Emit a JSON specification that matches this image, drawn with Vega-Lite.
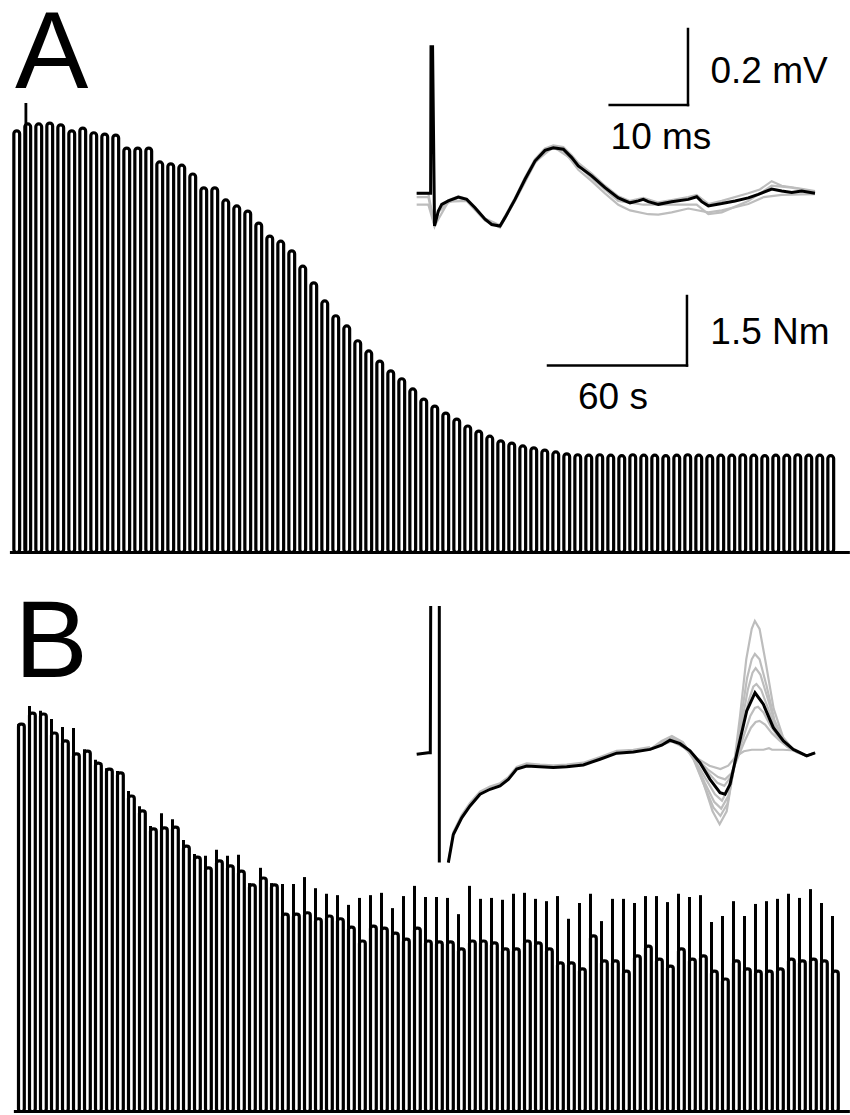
{
"$schema": "https://vega.github.io/schema/vega-lite/v6.json",
"background": "white",
"padding": 0,
"spacing": 0,
"bounds": "flush",
"config": {"view": {"stroke": null}},
"datasets": {
"pulsesA": [
{"t0":0,"t1":2.5,"top":9.10},{"t0":4.75,"t1":7.25,"top":9.25},{"t0":9.5,"t1":12,"top":9.25},{"t0":14.25,"t1":16.75,"top":9.27},{"t0":19,"t1":21.5,"top":9.23},
{"t0":23.75,"t1":26.25,"top":9.10},{"t0":28.5,"t1":31,"top":9.16},{"t0":33.25,"t1":35.75,"top":9.06},{"t0":38,"t1":40.5,"top":9.03},{"t0":42.75,"t1":45.25,"top":9.01},
{"t0":47.5,"t1":50,"top":8.73},{"t0":52.25,"t1":54.75,"top":8.73},{"t0":57,"t1":59.5,"top":8.73},{"t0":61.75,"t1":64.25,"top":8.43},{"t0":66.5,"t1":69,"top":8.39},
{"t0":71.25,"t1":73.75,"top":8.36},{"t0":76,"t1":78.5,"top":8.17},{"t0":80.75,"t1":83.25,"top":7.87},{"t0":85.5,"t1":88,"top":7.87},{"t0":90.25,"t1":92.75,"top":7.61},
{"t0":95,"t1":97.5,"top":7.48},{"t0":99.75,"t1":102.25,"top":7.37},{"t0":104.5,"t1":107,"top":7.11},{"t0":109.25,"t1":111.75,"top":6.83},{"t0":114,"t1":116.5,"top":6.72},
{"t0":118.75,"t1":121.25,"top":6.51},{"t0":123.5,"t1":126,"top":6.18},{"t0":128.25,"t1":130.75,"top":5.82},{"t0":133,"t1":135.5,"top":5.43},{"t0":137.75,"t1":140.25,"top":5.11},
{"t0":142.5,"t1":145,"top":4.89},{"t0":147.25,"t1":149.75,"top":4.57},{"t0":152,"t1":154.5,"top":4.35},{"t0":156.75,"t1":159.25,"top":4.13},{"t0":161.5,"t1":164,"top":3.92},
{"t0":166.25,"t1":168.75,"top":3.75},{"t0":171,"t1":173.5,"top":3.53},{"t0":175.75,"t1":178.25,"top":3.31},{"t0":180.5,"t1":183,"top":3.16},{"t0":185.25,"t1":187.75,"top":3.01},
{"t0":190,"t1":192.5,"top":2.88},{"t0":194.75,"t1":197.25,"top":2.73},{"t0":199.5,"t1":202,"top":2.62},{"t0":204.25,"t1":206.75,"top":2.51},{"t0":209,"t1":211.5,"top":2.41},
{"t0":213.75,"t1":216.25,"top":2.36},{"t0":218.5,"t1":221,"top":2.30},{"t0":223.25,"t1":225.75,"top":2.26},{"t0":228,"t1":230.5,"top":2.21},{"t0":232.75,"t1":235.25,"top":2.17},
{"t0":237.5,"t1":240,"top":2.13},{"t0":242.25,"t1":244.75,"top":2.11},{"t0":247,"t1":249.5,"top":2.10},{"t0":251.75,"t1":254.25,"top":2.11},{"t0":256.5,"t1":259,"top":2.10},
{"t0":261.25,"t1":263.75,"top":2.09},{"t0":266,"t1":268.5,"top":2.11},{"t0":270.75,"t1":273.25,"top":2.10},{"t0":275.5,"t1":278,"top":2.10},{"t0":280.25,"t1":282.75,"top":2.09},
{"t0":285,"t1":287.5,"top":2.10},{"t0":289.75,"t1":292.25,"top":2.11},{"t0":294.5,"t1":297,"top":2.10},{"t0":299.25,"t1":301.75,"top":2.09},{"t0":304,"t1":306.5,"top":2.10},
{"t0":308.75,"t1":311.25,"top":2.10},{"t0":313.5,"t1":316,"top":2.11},{"t0":318.25,"t1":320.75,"top":2.10},{"t0":323,"t1":325.5,"top":2.09},{"t0":327.75,"t1":330.25,"top":2.10},
{"t0":332.5,"t1":335,"top":2.10},{"t0":337.25,"t1":339.75,"top":2.11},{"t0":342,"t1":344.5,"top":2.10},{"t0":346.75,"t1":349.25,"top":2.10},{"t0":351.5,"t1":354,"top":2.09}
],
"spikesA": [{"t0":5.2,"spike":9.70}],
"pulsesB": [
{"t0":0,"t1":2.5,"top":8.36,"spike":8.36},{"t0":4.75,"t1":7.25,"top":8.60,"spike":8.75},{"t0":9.5,"t1":12,"top":8.58,"spike":8.65},{"t0":14.25,"t1":16.75,"top":8.17,"spike":8.47},{"t0":19,"t1":21.5,"top":8.00,"spike":8.30},
{"t0":23.75,"t1":26.25,"top":7.72,"spike":8.28},{"t0":28.5,"t1":31,"top":7.78,"spike":7.82},{"t0":33.25,"t1":35.75,"top":7.52,"spike":7.59},{"t0":38,"t1":40.5,"top":7.39,"spike":7.41},{"t0":42.75,"t1":45.25,"top":7.31,"spike":7.35},
{"t0":47.5,"t1":50,"top":6.81,"spike":6.92},{"t0":52.25,"t1":54.75,"top":6.49,"spike":6.59},{"t0":57,"t1":59.5,"top":6.10,"spike":6.16},{"t0":61.75,"t1":64.25,"top":6.12,"spike":6.44},{"t0":66.5,"t1":69,"top":6.14,"spike":6.31},
{"t0":71.25,"t1":73.75,"top":5.73,"spike":5.86},{"t0":76,"t1":78.5,"top":5.49,"spike":5.56},{"t0":80.75,"t1":83.25,"top":5.26,"spike":5.52},{"t0":85.5,"t1":88,"top":5.41,"spike":5.65},{"t0":90.25,"t1":92.75,"top":5.30,"spike":5.52},
{"t0":95,"t1":97.5,"top":5.19,"spike":5.54},{"t0":99.75,"t1":102.25,"top":4.89,"spike":4.93},{"t0":104.5,"t1":107,"top":5.04,"spike":5.26},{"t0":109.25,"t1":111.75,"top":4.89,"spike":4.93},{"t0":114,"t1":116.5,"top":4.26,"spike":4.91},
{"t0":118.75,"t1":121.25,"top":4.26,"spike":4.91},{"t0":123.5,"t1":126,"top":4.29,"spike":5.06},{"t0":128.25,"t1":130.75,"top":4.16,"spike":4.82},{"t0":133,"t1":135.5,"top":4.22,"spike":4.70},{"t0":137.75,"t1":140.25,"top":4.16,"spike":4.67},
{"t0":142.5,"t1":145,"top":3.98,"spike":4.46},{"t0":147.25,"t1":149.75,"top":3.68,"spike":4.61},{"t0":152,"t1":154.5,"top":4.00,"spike":4.67},{"t0":156.75,"t1":159.25,"top":3.96,"spike":4.72},{"t0":161.5,"t1":164,"top":3.85,"spike":4.39},
{"t0":166.25,"t1":168.75,"top":3.72,"spike":4.65},{"t0":171,"t1":173.5,"top":3.96,"spike":4.87},{"t0":175.75,"t1":178.25,"top":3.68,"spike":4.63},{"t0":180.5,"t1":183,"top":3.66,"spike":4.63},{"t0":185.25,"t1":187.75,"top":3.66,"spike":4.61},
{"t0":190,"t1":192.5,"top":3.51,"spike":4.26},{"t0":194.75,"t1":197.25,"top":3.68,"spike":4.87},{"t0":199.5,"t1":202,"top":3.68,"spike":4.59},{"t0":204.25,"t1":206.75,"top":3.64,"spike":4.61},{"t0":209,"t1":211.5,"top":3.51,"spike":4.57},
{"t0":213.75,"t1":216.25,"top":3.51,"spike":4.70},{"t0":218.5,"t1":221,"top":3.68,"spike":4.72},{"t0":223.25,"t1":225.75,"top":3.64,"spike":4.59},{"t0":228,"t1":230.5,"top":3.51,"spike":4.54},{"t0":232.75,"t1":235.25,"top":3.21,"spike":4.65},
{"t0":237.5,"t1":240,"top":3.21,"spike":4.16},{"t0":242.25,"t1":244.75,"top":3.08,"spike":4.50},{"t0":247,"t1":249.5,"top":3.79,"spike":4.70},{"t0":251.75,"t1":254.25,"top":3.25,"spike":4.11},{"t0":256.5,"t1":259,"top":3.25,"spike":4.59},
{"t0":261.25,"t1":263.75,"top":3.03,"spike":4.59},{"t0":266,"t1":268.5,"top":3.36,"spike":4.50},{"t0":270.75,"t1":273.25,"top":3.57,"spike":4.65},{"t0":275.5,"t1":278,"top":3.29,"spike":4.65},{"t0":280.25,"t1":282.75,"top":3.14,"spike":4.52},
{"t0":285,"t1":287.5,"top":3.51,"spike":4.70},{"t0":289.75,"t1":292.25,"top":3.29,"spike":4.63},{"t0":294.5,"t1":297,"top":3.36,"spike":4.67},{"t0":299.25,"t1":301.75,"top":3.03,"spike":4.09},{"t0":304,"t1":306.5,"top":2.86,"spike":4.22},
{"t0":308.75,"t1":311.25,"top":3.25,"spike":4.54},{"t0":313.5,"t1":316,"top":3.08,"spike":4.22},{"t0":318.25,"t1":320.75,"top":3.03,"spike":4.48},{"t0":323,"t1":325.5,"top":3.03,"spike":4.54},{"t0":327.75,"t1":330.25,"top":3.08,"spike":4.59},
{"t0":332.5,"t1":335,"top":3.29,"spike":4.70},{"t0":337.25,"t1":339.75,"top":3.25,"spike":4.61},{"t0":342,"t1":344.5,"top":3.29,"spike":4.80},{"t0":346.75,"t1":349.25,"top":3.25,"spike":4.50},{"t0":351.5,"t1":354,"top":3.03,"spike":4.22}
],
"emgA": [
{"g":"a1","ms":-1.83,"mV":-0.03},{"g":"a1","ms":-0.34,"mV":-0.03},{"g":"a1","ms":0.45,"mV":-0.086},{"g":"a1","ms":0.93,"mV":-0.05},{"g":"a1","ms":2.21,"mV":-0.025},{"g":"a1","ms":3.49,"mV":-0.012},{"g":"a1","ms":4.56,"mV":-0.018},{"g":"a1","ms":5.62,"mV":-0.04},{"g":"a1","ms":6.9,"mV":-0.07},{"g":"a1","ms":8.81,"mV":-0.088},{"g":"a1","ms":10.73,"mV":-0.02},{"g":"a1","ms":12.01,"mV":0.03},{"g":"a1","ms":13.28,"mV":0.08},{"g":"a1","ms":14.56,"mV":0.11},{"g":"a1","ms":15.62,"mV":0.118},{"g":"a1","ms":16.9,"mV":0.112},{"g":"a1","ms":17.97,"mV":0.085},{"g":"a1","ms":18.81,"mV":0.062},{"g":"a1","ms":20.52,"mV":0.032},{"g":"a1","ms":22.22,"mV":0.0},{"g":"a1","ms":23.92,"mV":-0.03},{"g":"a1","ms":25.42,"mV":-0.045},{"g":"a1","ms":27.75,"mV":-0.055},{"g":"a1","ms":29.03,"mV":-0.056},{"g":"a1","ms":30.74,"mV":-0.05},{"g":"a1","ms":32.86,"mV":-0.04},{"g":"a1","ms":35.42,"mV":-0.05},{"g":"a1","ms":37.13,"mV":-0.045},{"g":"a1","ms":40.52,"mV":-0.028},{"g":"a1","ms":42.5,"mV":-0.01},{"g":"a1","ms":44.79,"mV":-0.004},{"g":"a1","ms":47.34,"mV":-0.003},{"g":"a1","ms":49.04,"mV":-0.002},
{"g":"a2","ms":-1.83,"mV":0.0},{"g":"a2","ms":-0.34,"mV":0.0},{"g":"a2","ms":0.45,"mV":-0.086},{"g":"a2","ms":0.93,"mV":-0.045},{"g":"a2","ms":2.21,"mV":-0.018},{"g":"a2","ms":3.49,"mV":-0.008},{"g":"a2","ms":4.56,"mV":-0.014},{"g":"a2","ms":5.62,"mV":-0.036},{"g":"a2","ms":6.9,"mV":-0.066},{"g":"a2","ms":8.81,"mV":-0.084},{"g":"a2","ms":10.73,"mV":-0.012},{"g":"a2","ms":12.01,"mV":0.042},{"g":"a2","ms":13.28,"mV":0.09},{"g":"a2","ms":14.56,"mV":0.118},{"g":"a2","ms":15.62,"mV":0.126},{"g":"a2","ms":16.9,"mV":0.122},{"g":"a2","ms":17.97,"mV":0.1},{"g":"a2","ms":18.81,"mV":0.08},{"g":"a2","ms":20.52,"mV":0.052},{"g":"a2","ms":22.22,"mV":0.02},{"g":"a2","ms":23.92,"mV":-0.008},{"g":"a2","ms":25.42,"mV":-0.02},{"g":"a2","ms":27.11,"mV":-0.012},{"g":"a2","ms":29.03,"mV":-0.024},{"g":"a2","ms":30.74,"mV":-0.018},{"g":"a2","ms":32.86,"mV":-0.01},{"g":"a2","ms":33.93,"mV":-0.004},{"g":"a2","ms":35.42,"mV":-0.028},{"g":"a2","ms":37.13,"mV":-0.02},{"g":"a2","ms":40.52,"mV":0.0},{"g":"a2","ms":42.0,"mV":0.01},{"g":"a2","ms":43.51,"mV":0.032},{"g":"a2","ms":44.79,"mV":0.02},{"g":"a2","ms":47.34,"mV":0.012},{"g":"a2","ms":49.04,"mV":0.006},
{"g":"a3","ms":-1.83,"mV":-0.01},{"g":"a3","ms":-0.34,"mV":-0.01},{"g":"a3","ms":0.45,"mV":-0.086},{"g":"a3","ms":2.21,"mV":-0.022},{"g":"a3","ms":4.56,"mV":-0.02},{"g":"a3","ms":6.9,"mV":-0.072},{"g":"a3","ms":8.81,"mV":-0.09},{"g":"a3","ms":10.73,"mV":-0.018},{"g":"a3","ms":13.28,"mV":0.082},{"g":"a3","ms":15.62,"mV":0.122},{"g":"a3","ms":17.97,"mV":0.09},{"g":"a3","ms":20.52,"mV":0.04},{"g":"a3","ms":23.92,"mV":-0.02},{"g":"a3","ms":27.11,"mV":-0.03},{"g":"a3","ms":30.74,"mV":-0.03},{"g":"a3","ms":33.93,"mV":-0.03},{"g":"a3","ms":35.42,"mV":-0.055},{"g":"a3","ms":37.13,"mV":-0.05},{"g":"a3","ms":40.52,"mV":-0.02},{"g":"a3","ms":43.51,"mV":0.02},{"g":"a3","ms":46.07,"mV":0.015},{"g":"a3","ms":49.04,"mV":0.004}
],
"meanA": [
{"ms":-1.83,"mV":0},{"ms":-0.34,"mV":0},{"ms":-0.05,"mV":0},{"ms":0.0,"mV":0.386},{"ms":0.2,"mV":0.386},{"ms":0.45,"mV":-0.086},{"ms":0.93,"mV":-0.047},{"ms":1.37,"mV":-0.029},{"ms":2.21,"mV":-0.02},{"ms":3.49,"mV":-0.01},{"ms":4.56,"mV":-0.016},{"ms":5.62,"mV":-0.038},{"ms":6.9,"mV":-0.068},{"ms":7.75,"mV":-0.082},{"ms":8.81,"mV":-0.086},{"ms":9.45,"mV":-0.064},{"ms":10.73,"mV":-0.016},{"ms":12.01,"mV":0.037},{"ms":13.28,"mV":0.085},{"ms":14.56,"mV":0.113},{"ms":15.62,"mV":0.12},{"ms":16.9,"mV":0.116},{"ms":17.97,"mV":0.094},{"ms":18.81,"mV":0.072},{"ms":20.52,"mV":0.046},{"ms":22.22,"mV":0.015},{"ms":23.92,"mV":-0.012},{"ms":25.42,"mV":-0.025},{"ms":26.48,"mV":-0.02},{"ms":27.11,"mV":-0.016},{"ms":27.75,"mV":-0.022},{"ms":29.03,"mV":-0.029},{"ms":30.74,"mV":-0.022},{"ms":32.86,"mV":-0.016},{"ms":33.93,"mV":-0.009},{"ms":34.57,"mV":-0.022},{"ms":35.42,"mV":-0.033},{"ms":37.13,"mV":-0.027},{"ms":38.83,"mV":-0.02},{"ms":40.52,"mV":-0.012},{"ms":41.8,"mV":-0.003},{"ms":43.51,"mV":0.011},{"ms":44.79,"mV":0.006},{"ms":46.07,"mV":0.002},{"ms":47.34,"mV":0.006},{"ms":49.04,"mV":0.0}
],
"emgB": [
{"g":"b0","ms":2.25,"mV":-0.285},{"g":"b0","ms":2.89,"mV":-0.205},{"g":"b0","ms":3.96,"mV":-0.16},{"g":"b0","ms":5.02,"mV":-0.128},{"g":"b0","ms":6.3,"mV":-0.098},{"g":"b0","ms":7.57,"mV":-0.085},{"g":"b0","ms":8.85,"mV":-0.076},{"g":"b0","ms":9.91,"mV":-0.06},{"g":"b0","ms":10.98,"mV":-0.033},{"g":"b0","ms":12.26,"mV":-0.024},{"g":"b0","ms":13.96,"mV":-0.027},{"g":"b0","ms":15.66,"mV":-0.029},{"g":"b0","ms":17.37,"mV":-0.027},{"g":"b0","ms":19.49,"mV":-0.022},{"g":"b0","ms":21.62,"mV":-0.007},{"g":"b0","ms":23.75,"mV":0.009},{"g":"b0","ms":25.88,"mV":0.012},{"g":"b0","ms":28.01,"mV":0.019},
{"g":"b1","ms":28.0,"mV":0.013},{"g":"b1","ms":29.5,"mV":0.035},{"g":"b1","ms":30.8,"mV":0.048},{"g":"b1","ms":32.2,"mV":0.032},{"g":"b1","ms":33.6,"mV":-0.01},{"g":"b1","ms":34.9,"mV":-0.08},{"g":"b1","ms":36.0,"mV":-0.15},{"g":"b1","ms":36.9,"mV":-0.184},{"g":"b1","ms":37.8,"mV":-0.15},{"g":"b1","ms":38.6,"mV":-0.05},{"g":"b1","ms":39.5,"mV":0.1},{"g":"b1","ms":40.3,"mV":0.25},{"g":"b1","ms":41.0,"mV":0.33},{"g":"b1","ms":41.4,"mV":0.351},{"g":"b1","ms":42.0,"mV":0.33},{"g":"b1","ms":42.8,"mV":0.24},{"g":"b1","ms":43.8,"mV":0.12},{"g":"b1","ms":45.0,"mV":0.045},{"g":"b1","ms":46.3,"mV":0.012},{"g":"b1","ms":48.0,"mV":-0.004},{"g":"b1","ms":49.1,"mV":0.004},
{"g":"b2","ms":28.0,"mV":0.013},{"g":"b2","ms":29.5,"mV":0.032},{"g":"b2","ms":30.8,"mV":0.045},{"g":"b2","ms":32.2,"mV":0.03},{"g":"b2","ms":33.6,"mV":-0.015},{"g":"b2","ms":34.9,"mV":-0.08},{"g":"b2","ms":36.1,"mV":-0.14},{"g":"b2","ms":37.0,"mV":-0.162},{"g":"b2","ms":37.9,"mV":-0.13},{"g":"b2","ms":38.7,"mV":-0.04},{"g":"b2","ms":39.6,"mV":0.09},{"g":"b2","ms":40.4,"mV":0.2},{"g":"b2","ms":41.0,"mV":0.25},{"g":"b2","ms":41.4,"mV":0.264},{"g":"b2","ms":42.0,"mV":0.25},{"g":"b2","ms":42.9,"mV":0.18},{"g":"b2","ms":43.9,"mV":0.09},{"g":"b2","ms":45.0,"mV":0.04},{"g":"b2","ms":46.3,"mV":0.012},{"g":"b2","ms":48.0,"mV":-0.004},{"g":"b2","ms":49.1,"mV":0.004},
{"g":"b3","ms":28.0,"mV":0.013},{"g":"b3","ms":29.5,"mV":0.03},{"g":"b3","ms":30.8,"mV":0.04},{"g":"b3","ms":32.2,"mV":0.028},{"g":"b3","ms":33.6,"mV":-0.012},{"g":"b3","ms":35.0,"mV":-0.075},{"g":"b3","ms":36.2,"mV":-0.125},{"g":"b3","ms":37.1,"mV":-0.143},{"g":"b3","ms":38.0,"mV":-0.11},{"g":"b3","ms":38.8,"mV":-0.03},{"g":"b3","ms":39.7,"mV":0.08},{"g":"b3","ms":40.5,"mV":0.17},{"g":"b3","ms":41.1,"mV":0.215},{"g":"b3","ms":41.5,"mV":0.227},{"g":"b3","ms":42.1,"mV":0.21},{"g":"b3","ms":43.0,"mV":0.15},{"g":"b3","ms":44.0,"mV":0.08},{"g":"b3","ms":45.1,"mV":0.035},{"g":"b3","ms":46.4,"mV":0.01},{"g":"b3","ms":48.0,"mV":-0.004},{"g":"b3","ms":49.1,"mV":0.004},
{"g":"b4","ms":28.0,"mV":0.013},{"g":"b4","ms":29.5,"mV":0.028},{"g":"b4","ms":30.8,"mV":0.042},{"g":"b4","ms":32.2,"mV":0.025},{"g":"b4","ms":33.6,"mV":-0.01},{"g":"b4","ms":35.0,"mV":-0.06},{"g":"b4","ms":36.3,"mV":-0.105},{"g":"b4","ms":37.2,"mV":-0.122},{"g":"b4","ms":38.0,"mV":-0.09},{"g":"b4","ms":38.9,"mV":-0.02},{"g":"b4","ms":39.8,"mV":0.07},{"g":"b4","ms":40.6,"mV":0.14},{"g":"b4","ms":41.2,"mV":0.178},{"g":"b4","ms":41.6,"mV":0.185},{"g":"b4","ms":42.2,"mV":0.17},{"g":"b4","ms":43.1,"mV":0.12},{"g":"b4","ms":44.1,"mV":0.065},{"g":"b4","ms":45.2,"mV":0.03},{"g":"b4","ms":46.5,"mV":0.01},{"g":"b4","ms":48.0,"mV":-0.004},{"g":"b4","ms":49.1,"mV":0.004},
{"g":"b5","ms":28.0,"mV":0.013},{"g":"b5","ms":29.5,"mV":0.03},{"g":"b5","ms":30.8,"mV":0.04},{"g":"b5","ms":32.2,"mV":0.025},{"g":"b5","ms":33.8,"mV":-0.005},{"g":"b5","ms":35.3,"mV":-0.045},{"g":"b5","ms":36.6,"mV":-0.075},{"g":"b5","ms":37.5,"mV":-0.083},{"g":"b5","ms":38.3,"mV":-0.06},{"g":"b5","ms":39.1,"mV":-0.01},{"g":"b5","ms":40.0,"mV":0.05},{"g":"b5","ms":40.8,"mV":0.1},{"g":"b5","ms":41.4,"mV":0.122},{"g":"b5","ms":41.8,"mV":0.125},{"g":"b5","ms":42.5,"mV":0.11},{"g":"b5","ms":43.4,"mV":0.075},{"g":"b5","ms":44.4,"mV":0.045},{"g":"b5","ms":45.5,"mV":0.02},{"g":"b5","ms":46.8,"mV":0.005},{"g":"b5","ms":48.0,"mV":-0.004},{"g":"b5","ms":49.1,"mV":0.004},
{"g":"b6","ms":28.0,"mV":0.013},{"g":"b6","ms":29.5,"mV":0.026},{"g":"b6","ms":30.8,"mV":0.036},{"g":"b6","ms":32.2,"mV":0.02},{"g":"b6","ms":33.8,"mV":-0.008},{"g":"b6","ms":35.4,"mV":-0.04},{"g":"b6","ms":36.7,"mV":-0.06},{"g":"b6","ms":37.6,"mV":-0.066},{"g":"b6","ms":38.4,"mV":-0.05},{"g":"b6","ms":39.2,"mV":-0.01},{"g":"b6","ms":40.1,"mV":0.035},{"g":"b6","ms":40.9,"mV":0.07},{"g":"b6","ms":41.5,"mV":0.085},{"g":"b6","ms":42.0,"mV":0.088},{"g":"b6","ms":42.7,"mV":0.078},{"g":"b6","ms":43.6,"mV":0.055},{"g":"b6","ms":44.6,"mV":0.035},{"g":"b6","ms":45.7,"mV":0.018},{"g":"b6","ms":47.0,"mV":0.005},{"g":"b6","ms":48.0,"mV":-0.004},{"g":"b6","ms":49.1,"mV":0.004},
{"g":"b7","ms":28.0,"mV":0.013},{"g":"b7","ms":29.5,"mV":0.025},{"g":"b7","ms":30.8,"mV":0.034},{"g":"b7","ms":32.2,"mV":0.02},{"g":"b7","ms":34.0,"mV":-0.01},{"g":"b7","ms":35.6,"mV":-0.03},{"g":"b7","ms":37.0,"mV":-0.039},{"g":"b7","ms":38.0,"mV":-0.03},{"g":"b7","ms":39.0,"mV":-0.005},{"g":"b7","ms":40.0,"mV":0.008},{"g":"b7","ms":41.0,"mV":0.012},{"g":"b7","ms":42.5,"mV":0.012},{"g":"b7","ms":43.2,"mV":0.016},{"g":"b7","ms":43.6,"mV":0.012},{"g":"b7","ms":45.0,"mV":0.012},{"g":"b7","ms":46.5,"mV":0.01},{"g":"b7","ms":48.0,"mV":-0.004},{"g":"b7","ms":49.1,"mV":0.004}
],
"meanB": [
{"s":"s1","ms":-1.79,"mV":0},{"s":"s1","ms":-0.31,"mV":0.004},{"s":"s1","ms":-0.05,"mV":0.004},{"s":"s1","ms":0.0,"mV":0.39},
{"s":"s2","ms":1.1,"mV":0.39},{"s":"s2","ms":1.1,"mV":-0.285},
{"s":"s3","ms":2.25,"mV":-0.285},{"s":"s3","ms":2.89,"mV":-0.211},{"s":"s3","ms":3.96,"mV":-0.167},{"s":"s3","ms":5.02,"mV":-0.136},{"s":"s3","ms":6.3,"mV":-0.105},{"s":"s3","ms":7.57,"mV":-0.092},{"s":"s3","ms":8.85,"mV":-0.083},{"s":"s3","ms":9.91,"mV":-0.066},{"s":"s3","ms":10.98,"mV":-0.039},{"s":"s3","ms":12.26,"mV":-0.031},{"s":"s3","ms":13.96,"mV":-0.033},{"s":"s3","ms":15.66,"mV":-0.035},{"s":"s3","ms":17.37,"mV":-0.033},{"s":"s3","ms":19.49,"mV":-0.028},{"s":"s3","ms":21.62,"mV":-0.013},{"s":"s3","ms":23.75,"mV":0.003},{"s":"s3","ms":25.88,"mV":0.006},{"s":"s3","ms":28.01,"mV":0.013},{"s":"s3","ms":29.5,"mV":0.024},{"s":"s3","ms":30.56,"mV":0.037},{"s":"s3","ms":31.84,"mV":0.028},{"s":"s3","ms":33.12,"mV":0.009},{"s":"s3","ms":34.39,"mV":-0.022},{"s":"s3","ms":35.67,"mV":-0.066},{"s":"s3","ms":36.95,"mV":-0.101},{"s":"s3","ms":37.59,"mV":-0.105},{"s":"s3","ms":38.23,"mV":-0.079},{"s":"s3","ms":39.08,"mV":0},{"s":"s3","ms":40.36,"mV":0.114},{"s":"s3","ms":41.42,"mV":0.162},{"s":"s3","ms":42.48,"mV":0.132},{"s":"s3","ms":43.76,"mV":0.07},{"s":"s3","ms":45.04,"mV":0.035},{"s":"s3","ms":46.31,"mV":0.013},{"s":"s3","ms":48.02,"mV":-0.004},{"s":"s3","ms":49.08,"mV":0.004}
]
},
"vconcat": [
{
"width": 850, "height": 557,
"resolve": {"scale": {"x": "independent", "y": "independent"}},
"layer": [
{"data": {"name": "pulsesA"},
 "mark": {"type": "bar", "fill": "white", "stroke": "black", "strokeWidth": 3.2, "cornerRadius": 3},
 "encoding": {
  "x": {"field": "t0", "type": "quantitative", "scale": {"domain": [-5.981, 361.06], "nice": false, "zero": false, "padding": 0}, "axis": null},
  "x2": {"field": "t1"},
  "y": {"field": "top", "type": "quantitative", "scale": {"domain": [-0.119, 11.904], "nice": false, "zero": false}, "axis": null},
  "y2": {"datum": 0}}},
{"data": {"name": "spikesA"},
 "mark": {"type": "rule", "stroke": "black", "strokeWidth": 2.8},
 "encoding": {
  "x": {"field": "t0", "type": "quantitative", "scale": {"domain": [-5.981, 361.06], "nice": false, "zero": false, "padding": 0}, "axis": null},
  "y": {"field": "spike", "type": "quantitative", "scale": {"domain": [-0.119, 11.904], "nice": false, "zero": false}, "axis": null},
  "y2": {"datum": 0}}},
{"data": {"values": [{"t": -1.7, "t2": 361, "v": 0}]},
 "mark": {"type": "rule", "stroke": "black", "strokeWidth": 3},
 "encoding": {
  "x": {"field": "t", "type": "quantitative", "scale": {"domain": [-5.981, 361.06], "nice": false, "zero": false, "padding": 0}, "axis": null},
  "x2": {"field": "t2"},
  "y": {"field": "v", "type": "quantitative", "scale": {"domain": [-0.119, 11.904], "nice": false, "zero": false}, "axis": null}}},
{"data": {"values": [{"t": 230.65, "t2": 290.66, "v": 4.036, "v2": 4.036}, {"t": 290.66, "t2": 290.66, "v": 4.036, "v2": 5.536}]},
 "mark": {"type": "rule", "stroke": "black", "strokeWidth": 2.5, "strokeCap": "square"},
 "encoding": {
  "x": {"field": "t", "type": "quantitative", "scale": {"domain": [-5.981, 361.06], "nice": false, "zero": false, "padding": 0}, "axis": null},
  "x2": {"field": "t2"},
  "y": {"field": "v", "type": "quantitative", "scale": {"domain": [-0.119, 11.904], "nice": false, "zero": false}, "axis": null},
  "y2": {"field": "v2"}}},
{"data": {"values": [{"t": 326.5, "v": 4.494, "label": "1.5 Nm"}, {"t": 258.7, "v": 3.097, "label": "60 s"}]},
 "mark": {"type": "text", "font": "Liberation Sans", "fontSize": 37, "align": "center", "baseline": "alphabetic", "color": "black"},
 "encoding": {
  "x": {"field": "t", "type": "quantitative", "scale": {"domain": [-5.981, 361.06], "nice": false, "zero": false, "padding": 0}, "axis": null},
  "y": {"field": "v", "type": "quantitative", "scale": {"domain": [-0.119, 11.904], "nice": false, "zero": false}, "axis": null},
  "text": {"field": "label"}}},
{"data": {"values": [{"t": 0.5, "v": 10.026, "label": "A"}]},
 "mark": {"type": "text", "font": "Liberation Sans", "fontSize": 110, "align": "left", "baseline": "alphabetic", "color": "black"},
 "encoding": {
  "x": {"field": "t", "type": "quantitative", "scale": {"domain": [-5.981, 361.06], "nice": false, "zero": false, "padding": 0}, "axis": null},
  "y": {"field": "v", "type": "quantitative", "scale": {"domain": [-0.119, 11.904], "nice": false, "zero": false}, "axis": null},
  "text": {"field": "label"}}},
{"data": {"name": "emgA"},
 "mark": {"type": "line", "stroke": "#bdbdbd", "strokeWidth": 2.2},
 "encoding": {
  "x": {"field": "ms", "type": "quantitative", "scale": {"domain": [-55.045, 53.512], "nice": false, "zero": false}, "axis": null},
  "y": {"field": "mV", "type": "quantitative", "scale": {"domain": [-0.9597, 0.5061], "nice": false, "zero": false}, "axis": null},
  "detail": {"field": "g"}}},
{"data": {"name": "meanA"},
 "mark": {"type": "line", "stroke": "black", "strokeWidth": 3},
 "encoding": {
  "x": {"field": "ms", "type": "quantitative", "scale": {"domain": [-55.045, 53.512], "nice": false, "zero": false}, "axis": null},
  "y": {"field": "mV", "type": "quantitative", "scale": {"domain": [-0.9597, 0.5061], "nice": false, "zero": false}, "axis": null}}},
{"data": {"values": [{"ms": 22.82, "ms2": 32.82, "mV": 0.2324, "mV2": 0.2324}, {"ms": 32.82, "ms2": 32.82, "mV": 0.2324, "mV2": 0.4324}]},
 "mark": {"type": "rule", "stroke": "black", "strokeWidth": 2.5, "strokeCap": "square"},
 "encoding": {
  "x": {"field": "ms", "type": "quantitative", "scale": {"domain": [-55.045, 53.512], "nice": false, "zero": false}, "axis": null},
  "x2": {"field": "ms2"},
  "y": {"field": "mV", "type": "quantitative", "scale": {"domain": [-0.9597, 0.5061], "nice": false, "zero": false}, "axis": null},
  "y2": {"field": "mV2"}}},
{"data": {"values": [{"ms": 43.17, "mV": 0.2903, "label": "0.2 mV"}, {"ms": 29.37, "mV": 0.1166, "label": "10 ms"}]},
 "mark": {"type": "text", "font": "Liberation Sans", "fontSize": 37, "align": "center", "baseline": "alphabetic", "color": "black"},
 "encoding": {
  "x": {"field": "ms", "type": "quantitative", "scale": {"domain": [-55.045, 53.512], "nice": false, "zero": false}, "axis": null},
  "y": {"field": "mV", "type": "quantitative", "scale": {"domain": [-0.9597, 0.5061], "nice": false, "zero": false}, "axis": null},
  "text": {"field": "label"}}}
]
},
{
"width": 850, "height": 558,
"resolve": {"scale": {"x": "independent", "y": "independent"}},
"layer": [
{"data": {"name": "pulsesB"},
 "mark": {"type": "bar", "fill": "white", "stroke": "black", "strokeWidth": 3.2, "cornerRadius": 2.5},
 "encoding": {
  "x": {"field": "t0", "type": "quantitative", "scale": {"domain": [-7.989, 359.06], "nice": false, "zero": false, "padding": 0}, "axis": null},
  "x2": {"field": "t1"},
  "y": {"field": "top", "type": "quantitative", "scale": {"domain": [-0.097, 11.947], "nice": false, "zero": false}, "axis": null},
  "y2": {"datum": 0}}},
{"data": {"name": "pulsesB"},
 "mark": {"type": "rule", "stroke": "black", "strokeWidth": 3},
 "encoding": {
  "x": {"field": "t0", "type": "quantitative", "scale": {"domain": [-7.989, 359.06], "nice": false, "zero": false, "padding": 0}, "axis": null},
  "y": {"field": "spike", "type": "quantitative", "scale": {"domain": [-0.097, 11.947], "nice": false, "zero": false}, "axis": null},
  "y2": {"datum": 0}}},
{"data": {"values": [{"t": -2.0, "t2": 359, "v": 0}]},
 "mark": {"type": "rule", "stroke": "black", "strokeWidth": 3},
 "encoding": {
  "x": {"field": "t", "type": "quantitative", "scale": {"domain": [-7.989, 359.06], "nice": false, "zero": false, "padding": 0}, "axis": null},
  "x2": {"field": "t2"},
  "y": {"field": "v", "type": "quantitative", "scale": {"domain": [-0.097, 11.947], "nice": false, "zero": false}, "axis": null}}},
{"data": {"values": [{"t": -1.77, "v": 9.378, "label": "B"}]},
 "mark": {"type": "text", "font": "Liberation Sans", "fontSize": 110, "align": "left", "baseline": "alphabetic", "color": "black"},
 "encoding": {
  "x": {"field": "t", "type": "quantitative", "scale": {"domain": [-7.989, 359.06], "nice": false, "zero": false, "padding": 0}, "axis": null},
  "y": {"field": "v", "type": "quantitative", "scale": {"domain": [-0.097, 11.947], "nice": false, "zero": false}, "axis": null},
  "text": {"field": "label"}}},
{"data": {"name": "emgB"},
 "mark": {"type": "line", "stroke": "#bdbdbd", "strokeWidth": 2.2},
 "encoding": {
  "x": {"field": "ms", "type": "quantitative", "scale": {"domain": [-55.006, 53.55], "nice": false, "zero": false}, "axis": null},
  "y": {"field": "mV", "type": "quantitative", "scale": {"domain": [-0.9518, 0.5166], "nice": false, "zero": false}, "axis": null},
  "detail": {"field": "g"}}},
{"data": {"name": "meanB"},
 "mark": {"type": "line", "stroke": "black", "strokeWidth": 3},
 "encoding": {
  "x": {"field": "ms", "type": "quantitative", "scale": {"domain": [-55.006, 53.55], "nice": false, "zero": false}, "axis": null},
  "y": {"field": "mV", "type": "quantitative", "scale": {"domain": [-0.9518, 0.5166], "nice": false, "zero": false}, "axis": null},
  "detail": {"field": "s"}}}
]
}
]
}
